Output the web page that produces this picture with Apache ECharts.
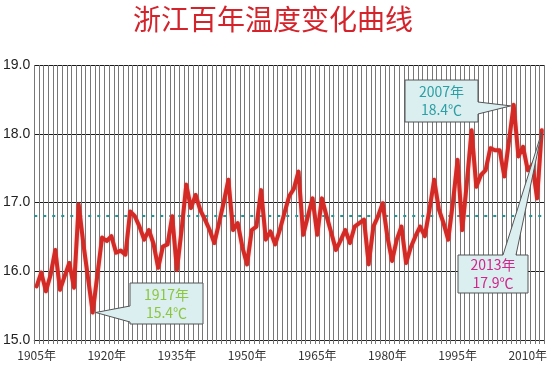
<!DOCTYPE html>
<html>
<head>
<meta charset="utf-8">
<script src="https://cdn.jsdelivr.net/npm/echarts@6/dist/echarts.min.js"></script>
<style>
html,body{margin:0;padding:0;background:#fff;}
#chart{width:550px;height:369px;}
</style>
</head>
<body>
<div id="chart"></div>
<script>
// ---- data ----
const titleText = '浙江百年温度变化曲线';
const startYear = 1905;
const endYear = 2013;
const temps = [
  // 1905-1914
  15.78, 15.98, 15.71, 15.95, 16.31, 15.73, 15.93, 16.12, 15.76, 16.97,
  // 1915-1924
  16.40, 15.90, 15.40, 15.95, 16.49, 16.44, 16.51, 16.27, 16.30, 16.24,
  // 1925-1934
  16.87, 16.80, 16.65, 16.46, 16.60, 16.40, 16.05, 16.36, 16.39, 16.80,
  // 1935-1944
  16.02, 16.60, 17.26, 16.92, 17.11, 16.89, 16.75, 16.60, 16.41, 16.70,
  // 1945-1954
  17.00, 17.33, 16.60, 16.70, 16.35, 16.10, 16.60, 16.65, 17.18, 16.46,
  // 1955-1964
  16.58, 16.39, 16.60, 16.85, 17.09, 17.20, 17.45, 16.53, 16.80, 17.06,
  // 1965-1974
  16.53, 17.06, 16.80, 16.56, 16.31, 16.45, 16.60, 16.41, 16.65, 16.70,
  // 1975-1984
  16.75, 16.10, 16.65, 16.80, 16.99, 16.50, 16.15, 16.46, 16.65, 16.12,
  // 1985-1994
  16.35, 16.51, 16.65, 16.51, 16.90, 17.33, 16.90, 16.70, 16.46, 17.00,
  // 1995-2004
  17.62, 16.60, 17.30, 18.05, 17.23, 17.40, 17.47, 17.79, 17.76, 17.76,
  // 2005-2013
  17.38, 17.90, 18.42, 17.67, 17.81, 17.47, 17.55, 17.06, 18.05
];
const averageTemp = 16.8;
const yTicks = [15, 16, 17, 18, 19];
const labelYears = [1905, 1920, 1935, 1950, 1965, 1980, 1995, 2010];
const calloutYears = [1917, 2007, 2013];
const calloutTexts = [['1917年', '15.4℃'], ['2007年', '18.4℃'], ['2013年', '17.9℃']];

// categories
const years = [];
for (let y = startYear; y <= endYear; y++) years.push(String(y));

// ---- layout / style (not data) ----
const calloutLayout = [
  { color: '#8cc63f', box: { x: 130, y: 283, w: 73, h: 41 }, side: 'left', base: [306, 322], tipOffset: [3, 0] },
  { color: '#2b9fa3', box: { x: 405, y: 80, w: 73, h: 42 }, side: 'right', base: [102, 114], tipOffset: [-3, 1] },
  { color: '#d0268c', box: { x: 458, y: 255, w: 70, h: 38 }, side: 'top', base: [503, 516], tipOffset: [0, 2] }
];

const chart = echarts.init(document.getElementById('chart'), null, { renderer: 'canvas' });
const gridColor = '#777777';
const option = {
  animation: false,
  backgroundColor: '#ffffff',
  title: {
    text: titleText,
    left: 268, top: 0,
    textAlign: 'center',
    textStyle: { color: '#d4232b', fontSize: 28, fontWeight: 'normal', fontFamily: '"Noto Sans CJK SC", sans-serif' }
  },
  grid: { left: 33, right: 2, top: 65, bottom: 29, containLabel: false },
  xAxis: {
    type: 'category',
    data: years,
    boundaryGap: true,
    axisLine: { show: true, lineStyle: { color: '#222', width: 1 } },
    axisTick: { show: true, interval: 0, length: 4, lineStyle: { color: gridColor } },
    splitLine: { show: true, interval: 0, lineStyle: { color: gridColor, width: 1 } },
    axisLabel: {
      interval: function (idx, val) { return labelYears.indexOf(Number(val)) >= 0; },
      formatter: function (v) { return v + '年'; },
      color: '#333', fontSize: 12, margin: 9,
      fontFamily: '"Liberation Sans Narrow", "Noto Sans CJK SC", sans-serif'
    }
  },
  yAxis: {
    type: 'value',
    min: yTicks[0], max: yTicks[yTicks.length - 1], interval: 1,
    axisLine: { show: false },
    axisTick: { show: false },
    splitLine: { show: true, lineStyle: { color: '#1a1a1a', width: 1 } },
    axisLabel: {
      formatter: function (v) { return v.toFixed(1); },
      color: '#222', fontSize: 14, margin: 4,
      fontFamily: '"Liberation Sans Narrow", "Liberation Sans", sans-serif'
    }
  },
  series: [{
    type: 'line',
    data: temps,
    showSymbol: false,
    z: 3,
    lineStyle: { color: '#d42a26', width: 4, join: 'round', cap: 'round', shadowColor: 'rgba(230,90,80,0.5)', shadowBlur: 2 },
    markLine: {
      silent: true,
      symbol: 'none',
      label: { show: false },
      z: 2,
      lineStyle: { color: '#1a9a9a', type: [3, 6], width: 2 },
      data: [{ yAxis: averageTemp }]
    }
  }]
};
chart.setOption(option);

// callouts tied to data points
const graphics = [];
calloutYears.forEach(function (yr, i) {
  const L = calloutLayout[i];
  const v = temps[yr - startYear];
  const pt = chart.convertToPixel({ gridIndex: 0 }, [String(yr), v]);
  const tip = [pt[0] + L.tipOffset[0], pt[1] + L.tipOffset[1]];
  const b = L.box;
  const x0 = b.x, y0 = b.y, x1 = b.x + b.w, y1 = b.y + b.h;
  let pts;
  if (L.side === 'left') {
    pts = [[x0, y0], [x1, y0], [x1, y1], [x0, y1], [x0, L.base[1]], tip, [x0, L.base[0]]];
  } else if (L.side === 'right') {
    pts = [[x0, y0], [x1, y0], [x1, L.base[0]], tip, [x1, L.base[1]], [x1, y1], [x0, y1]];
  } else {
    pts = [[x0, y0], [L.base[0], y0], tip, [L.base[1], y0], [x1, y0], [x1, y1], [x0, y1]];
  }
  graphics.push({
    type: 'polygon', z: 10,
    shape: { points: pts },
    style: { fill: '#dbeef0', stroke: '#555', lineWidth: 1 }
  });
  graphics.push({
    type: 'text', z: 11,
    x: (x0 + x1) / 2, y: (y0 + y1) / 2,
    style: {
      text: calloutTexts[i].join('\n'),
      fill: L.color,
      align: 'center', verticalAlign: 'middle',
      fontSize: 14, lineHeight: 18,
      fontFamily: '"Liberation Sans Narrow", "Noto Sans CJK SC", sans-serif'
    }
  });
});
chart.setOption({ graphic: graphics });
</script>
</body>
</html>
